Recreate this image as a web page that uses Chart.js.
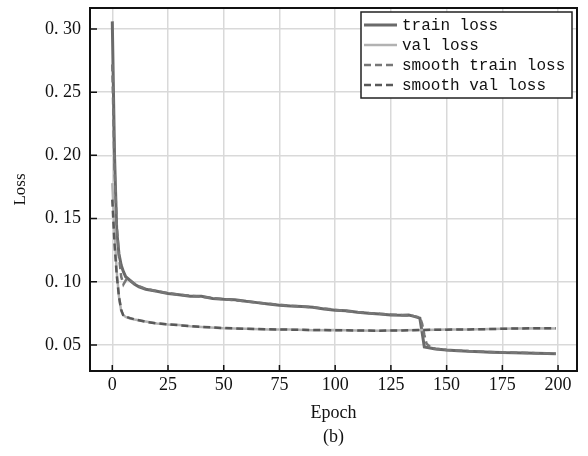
<!DOCTYPE html>
<html><head><meta charset="utf-8">
<script src="https://cdn.jsdelivr.net/npm/chart.js@4.4.1/dist/chart.umd.min.js"></script>
<style>html,body{margin:0;padding:0;background:#fff}#wrap{width:588px;height:456px}</style>
</head><body><div id="wrap"><canvas id="c" width="588" height="456"></canvas></div>
<script>
const xTicks = [0, 25, 50, 75, 100, 125, 150, 175, 200];
const yTicks = [0.05, 0.10, 0.15, 0.20, 0.25, 0.30];
const seriesNames = ['train loss', 'val loss', 'smooth train loss', 'smooth val loss'];

const trainEpochs = [0,1,2,3,4,5,6,8,10,12,15,20,25,30,35,40,45,50,55,60,65,70,75,80,85,90,95,100,105,110,115,120,125,130,133,135,138,139,140,142,145,150,155,160,165,170,175,180,185,190,195,199];
const trainLoss = [0.306,0.20,0.14,0.122,0.113,0.108,0.104,0.101,0.098,0.096,0.094,0.0925,0.0908,0.0898,0.0885,0.0885,0.0868,0.0862,0.0858,0.0845,0.0835,0.0825,0.0815,0.0808,0.0805,0.0798,0.0785,0.0775,0.0770,0.0758,0.0750,0.0745,0.0738,0.0735,0.0737,0.0728,0.0712,0.060,0.0485,0.0478,0.0468,0.0460,0.0455,0.0450,0.0447,0.0443,0.0440,0.0439,0.0437,0.0435,0.0432,0.0430];

const valEpochs = [0,1,2,3,4,5,6,8,10,15,20,25,30,35,40,50,60,70,80,90,100,110,120,130,140,150,160,170,180,190,199];
const valLoss = [0.178,0.14,0.108,0.088,0.077,0.0735,0.0722,0.071,0.0702,0.0685,0.067,0.0662,0.0657,0.0648,0.0642,0.0633,0.0628,0.0622,0.0622,0.0617,0.0618,0.0614,0.0612,0.0616,0.0618,0.0622,0.0622,0.0627,0.063,0.0633,0.0631];

const smoothTrainEpochs = [0,1,2,3,4,5,6,7,8,10,12,15,20,25,30,40,50,60,70,80,90,100,110,120,130,135,138,139,140,141,143,145,150,160,170,180,190,199];
const smoothTrainLoss = [0.272,0.19,0.145,0.12,0.104,0.098,0.101,0.103,0.101,0.0985,0.0965,0.0945,0.0925,0.091,0.0898,0.0882,0.0862,0.0845,0.0826,0.081,0.0798,0.0778,0.076,0.0746,0.0736,0.073,0.0718,0.067,0.058,0.051,0.0478,0.047,0.0461,0.0451,0.0444,0.0439,0.0435,0.0431];

const smoothValEpochs = [0,1,2,3,4,5,6,8,10,15,20,25,30,40,50,60,70,80,90,100,110,120,130,140,150,160,170,180,190,199];
const smoothValLoss = [0.165,0.13,0.105,0.088,0.078,0.073,0.0725,0.0712,0.0703,0.0683,0.0671,0.0663,0.0656,0.0643,0.0634,0.0628,0.0624,0.0621,0.0619,0.0617,0.0615,0.0613,0.0615,0.0619,0.0621,0.0623,0.0626,0.063,0.0632,0.0632];

const pts = (xs, ys) => xs.map((x, i) => ({x: x, y: ys[i]}));

const framePlugin = {
  id: 'frame',
  afterDraw(chart) {
    const {ctx, chartArea: a, scales} = chart;
    ctx.save();
    ctx.strokeStyle = '#111';
    ctx.lineWidth = 1.5;
    ctx.beginPath();
    scales.x.ticks.forEach(t => {
      const px = scales.x.getPixelForValue(t.value);
      ctx.moveTo(px, a.bottom); ctx.lineTo(px, a.bottom - 6);
    });
    scales.y.ticks.forEach(t => {
      const py = scales.y.getPixelForValue(t.value);
      ctx.moveTo(a.left, py); ctx.lineTo(a.left + 7, py);
    });
    ctx.stroke();
    ctx.lineWidth = 2;
    ctx.strokeRect(a.left, a.top, a.right - a.left, a.bottom - a.top);
    ctx.restore();
  }
};

const legendPlugin = {
  id: 'boxLegend',
  afterDatasetsDraw(chart) {
    const ctx = chart.ctx;
    const a = chart.chartArea;
    const x0 = a.right - 216, y0 = a.top + 4, w = 211, h = 86;
    ctx.save();
    ctx.fillStyle = '#fff';
    ctx.fillRect(x0, y0, w, h);
    ctx.strokeStyle = '#222';
    ctx.lineWidth = 1.5;
    ctx.strokeRect(x0, y0, w, h);
    ctx.font = '16px "Liberation Mono"';
    ctx.textBaseline = 'middle';
    chart.data.datasets.forEach((ds, i) => {
      const yy = y0 + 13 + i * 20;
      ctx.strokeStyle = ds.borderColor;
      ctx.lineWidth = ds.borderWidth;
      ctx.setLineDash(ds.borderDash || []);
      ctx.beginPath();
      ctx.moveTo(x0 + 3, yy); ctx.lineTo(x0 + 36, yy);
      ctx.stroke();
      ctx.setLineDash([]);
      ctx.fillStyle = '#111';
      ctx.fillText(ds.label, x0 + 41, yy + 1);
    });
    ctx.restore();
  }
};

new Chart(document.getElementById('c'), {
  type: 'line',
  data: {
    datasets: [
      {label: seriesNames[0], data: pts(trainEpochs, trainLoss), borderColor: '#6a6a6a', borderWidth: 3, order: 3},
      {label: seriesNames[1], data: pts(valEpochs, valLoss), borderColor: '#b2b2b2', borderWidth: 2.5, order: 2},
      {label: seriesNames[2], data: pts(smoothTrainEpochs, smoothTrainLoss), borderColor: '#777777', borderWidth: 2.5, borderDash: [7, 4], order: 1},
      {label: seriesNames[3], data: pts(smoothValEpochs, smoothValLoss), borderColor: '#595959', borderWidth: 2.5, borderDash: [7, 4], order: 0}
    ]
  },
  options: {
    responsive: false,
    animation: false,
    layout: {padding: {top: 8, right: 11, left: 0, bottom: 0}},
    elements: {point: {radius: 0}, line: {tension: 0, fill: false}},
    plugins: {legend: {display: false}, tooltip: {enabled: false}, title: {display: false}},
    scales: {
      x: {
        type: 'linear', min: -10, max: 208.5,
        afterBuildTicks: s => { s.ticks = xTicks.map(v => ({value: v})); },
        afterFit: s => { s.height = 85; s.paddingLeft = 0; s.paddingRight = 0; },
        grid: {color: '#d9d9d9', lineWidth: 1.5, drawTicks: false},
        border: {display: false},
        ticks: {padding: 3, color: '#111', maxRotation: 0, autoSkip: false, font: {family: 'Liberation Serif', size: 18}},
        title: {display: true, text: ['Epoch', '(b)'], color: '#111', font: {family: 'Liberation Serif', size: 18, lineHeight: 1.333}, padding: {top: 0, bottom: 7}}
      },
      y: {
        type: 'linear', min: 0.0294, max: 0.3166,
        afterBuildTicks: s => { s.ticks = yTicks.map(v => ({value: v})); },
        afterFit: s => { s.width = 90; s.paddingTop = 0; s.paddingBottom = 0; },
        grid: {color: '#d9d9d9', lineWidth: 1.5, drawTicks: false},
        border: {display: false},
        ticks: {padding: 9, color: '#111', font: {family: 'Liberation Serif', size: 18, lineHeight: 0.8},
          callback: v => Number(v).toFixed(2).replace('.', '. ')},
        title: {display: true, text: 'Loss', color: '#111', font: {family: 'Liberation Serif', size: 17, lineHeight: 1.2}, padding: {top: 10, bottom: 0}}
      }
    }
  },
  plugins: [framePlugin, legendPlugin]
});
</script>
</body></html>
